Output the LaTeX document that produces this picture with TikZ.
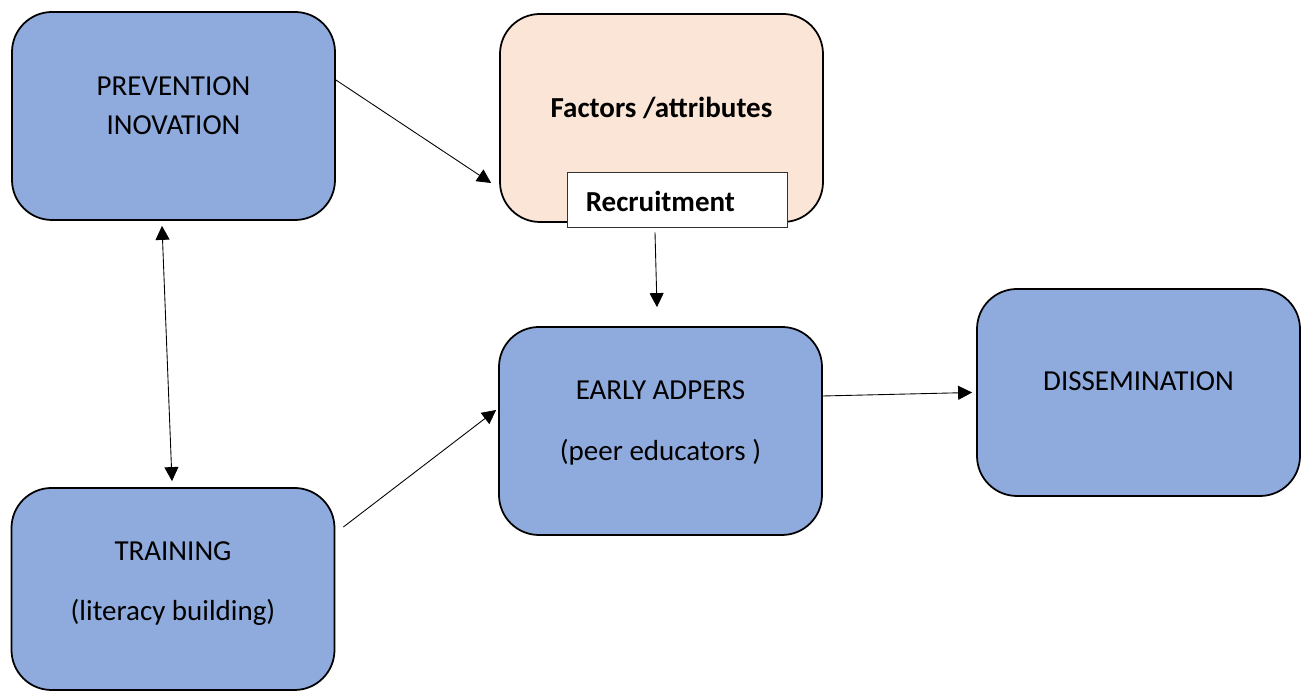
\documentclass[tikz,border=0pt]{standalone}
\usepackage{fontspec}
\setmainfont{Carlito}
\usetikzlibrary{arrows.meta}
\definecolor{boxblue}{HTML}{8FAADC}
\definecolor{boxpeach}{HTML}{FBE5D6}
\tikzset{
    stagebox/.style={draw=black, line width=1pt, rounded corners=0.8cm, fill=boxblue,
        minimum width=6.46cm, minimum height=4.16cm},
    stagetext/.style={align=center, font=\fontsize{16.5}{20}\selectfont},
    link/.style={line width=0.5pt, -{Triangle[length=2.8mm,width=2.8mm]}}
}
\begin{document}
\begin{tikzpicture}
    \useasboundingbox (0,0) rectangle (26.08,13.84);

    % Define the boxes
    \node[stagebox] (prev) at (3.47,11.52) {};
    \node[stagebox, fill=boxpeach] (fact) at (13.23,11.48) {};
    \node[draw=black!80, line width=0.5pt, fill=white, minimum width=4.4cm, minimum height=1.1cm] (recruit) at (13.54,9.85) {};
    \node[stagebox] (early) at (13.21,5.22) {};
    \node[stagebox, minimum height=4.14cm] (diss) at (22.77,5.99) {};
    \node[stagebox, minimum height=4.04cm] (train) at (3.46,2.06) {};

    % Texts inside the boxes
    \node[stagetext, font=\fontsize{16.5}{22}\selectfont] (prevtext) at ([yshift=0.21cm]prev.center) {PREVENTION\\INOVATION};
    \node[stagetext, font=\bfseries\fontsize{16.5}{20}\selectfont] (facttext) at ([yshift=0.2cm]fact.center) {Factors /attributes};
    \node[stagetext, font=\bfseries\fontsize{16.5}{20}\selectfont, anchor=west] (recruittext) at ([xshift=0.26cm,yshift=-0.03cm]recruit.west) {Recruitment};
    \node[stagetext] (earlytext) at ([yshift=0.16cm]early.center) {EARLY ADPERS\\[0.5cm](peer educators )};
    \node[stagetext] (disstext) at ([yshift=0.23cm]diss.center) {DISSEMINATION};
    \node[stagetext] (traintext) at ([yshift=0.11cm]train.center) {TRAINING\\[0.5cm](literacy building)};

    % Draw the connectors
    \draw[link] ([yshift=0.72cm]prev.east) -- ([xshift=-0.16cm,yshift=-1.3cm]fact.west);
    \draw[link, {Triangle[length=2.8mm,width=2.8mm]}-{Triangle[length=2.8mm,width=2.8mm]}] ([xshift=-0.23cm,yshift=-0.1cm]prev.south) -- ([xshift=-0.02cm,yshift=0.12cm]train.north);
    \draw[link] ([xshift=-0.44cm,yshift=-0.1cm]recruit.south) -- ([xshift=-0.07cm,yshift=0.38cm]early.north);
    \draw[link] ([xshift=0.16cm,yshift=1.24cm]train.east) -- ([xshift=-0.04cm,yshift=0.42cm]early.west);
    \draw[link] ([yshift=0.7cm]early.east) -- ([xshift=-0.08cm]diss.west);
\end{tikzpicture}
\end{document}
